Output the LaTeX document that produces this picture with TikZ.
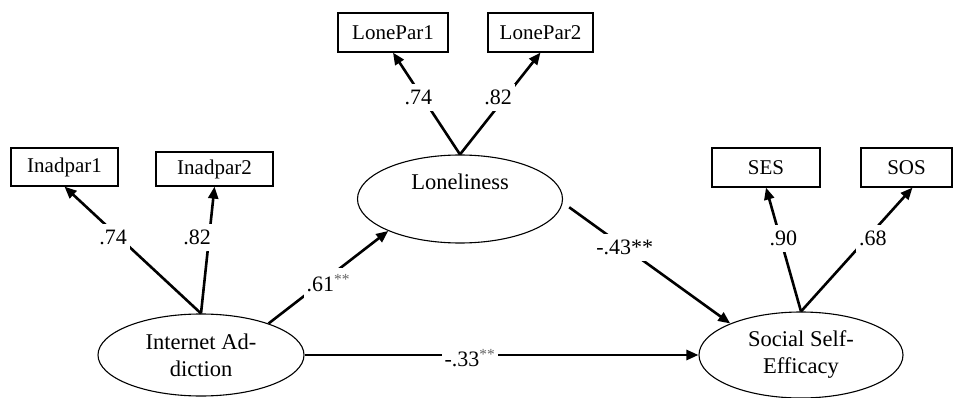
\documentclass[tikz,border=0pt]{standalone}
\usepackage{fontspec}
\setmainfont{Liberation Serif}
\usetikzlibrary{arrows.meta,shapes.geometric}
\begin{document}
\begin{tikzpicture}[x=1pt,y=-1pt,
  box/.style={draw, line width=1.2pt, inner sep=0pt, font=\fontsize{21}{25}\selectfont},
  latent/.style={draw, ellipse, line width=1.1pt, inner sep=0pt, align=center, font=\fontsize{22.5}{27}\selectfont},
  conn/.style={line width=2.6pt, -{Triangle[length=12pt,width=10pt]}},
  lbl/.style={fill=white, inner xsep=3pt, inner ysep=6pt, font=\fontsize{22}{26}\selectfont},
]
\useasboundingbox (0,0) rectangle (958,398);

% observed variables
\node[box, minimum width=107pt, minimum height=38pt] (ia1) at (64.5,167) {Inadpar1};
\node[box, minimum width=117pt, minimum height=34pt] (ia2) at (214.5,169) {Inadpar2};
\node[box, minimum width=110pt, minimum height=39pt] (lp1) at (393,32.5) {LonePar1};
\node[box, minimum width=105pt, minimum height=39pt] (lp2) at (540.5,32.5) {LonePar2};
\node[box, minimum width=108pt, minimum height=39pt] (ses) at (766,167.5) {SES};
\node[box, minimum width=91pt, minimum height=39pt] (sos) at (906.5,167.5) {SOS};

% latent variables
\node[latent, minimum width=206pt, minimum height=82pt] (IA) at (201,355) {Internet Ad-\\diction};
\node[latent, minimum width=205pt, minimum height=88pt] (Lon) at (460,199) {Loneliness\\\strut};
\node[latent, minimum width=204pt, minimum height=86pt] (SSE) at (801,355) {Social Self-\\Efficacy};

% measurement paths
\draw[conn] (IA.north) -- (ia1.south) node[lbl, pos=0.6, xshift=-6pt] {.74};
\draw[conn] (IA.north) -- (ia2.south) node[lbl, pos=0.6, xshift=-12pt] {.82};
\draw[conn] (Lon.north) -- (lp1.south) node[lbl, pos=0.56, xshift=-4pt] {.74};
\draw[conn] (Lon.north) -- (lp2.south) node[lbl, pos=0.56, xshift=-7pt] {.82};
\draw[conn] (SSE.north) -- (ses.south) node[lbl, pos=0.59, xshift=3pt] {.90};
\draw[conn] (SSE.north) -- ([xshift=6pt]sos.south) node[lbl, pos=0.59, xshift=6pt] {.68};

% structural paths
\draw[conn] (IA.25) -- (Lon.204) node[lbl, pos=0.5, yshift=-6pt] {.61\textsuperscript{\textcolor{black!60}{**}}};
\draw[conn, shorten <=8pt] (Lon.-2) -- (SSE.156) node[lbl, pos=0.37] {-.43**};
\draw[conn] (IA.east) -- (SSE.west) node[lbl, pos=0.42, yshift=-3pt, inner ysep=2pt] {-.33\textsuperscript{\textcolor{black!60}{**}}};
\end{tikzpicture}
\end{document}
